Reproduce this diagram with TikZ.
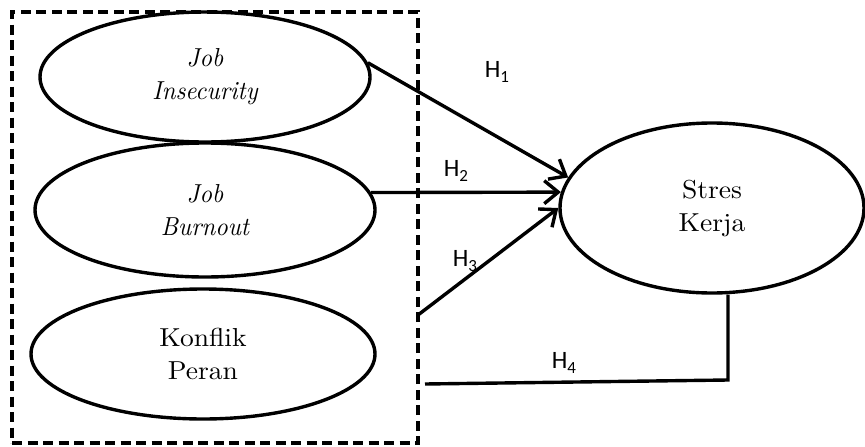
\documentclass[tikz,border=0pt]{standalone}
\usepackage{fontspec}
\newfontfamily\hfont{Carlito}
\newfontfamily\ovalfont{lmroman10-regular.otf}[FakeStretch=1.06]
\newfontfamily\ovalit{lmroman10-italic.otf}[FakeStretch=0.94]
\usetikzlibrary{shapes.geometric,arrows.meta}
\newcommand{\hlabel}[1]{H\raisebox{-4.5pt}{\fontsize{17}{17}\selectfont #1}}
\begin{document}
\begin{tikzpicture}[x=1pt,y=-1pt,
  oval/.style={draw,ellipse,line width=3.4pt,inner sep=0pt,align=center,
    font=\ovalfont\fontsize{26}{33}\selectfont},
  conn/.style={line width=3.4pt},
  arr/.style={conn,-{Straight Barb[length=14pt,width=23pt]}},
  hlab/.style={font=\hfont\fontsize{25}{25}\selectfont,inner sep=0pt},
  grpbox/.style={draw,line width=3.4pt,dash pattern=on 10pt off 5.5pt,inner sep=0pt}
]
\useasboundingbox (0,0) rectangle (865,447);
% group box
\node[grpbox,minimum width=406pt,minimum height=431pt] (grp) at (215,227.5) {};
% ellipses
\node[oval,minimum width=330pt,minimum height=130pt] (ji) at (205,77) {{\ovalit Job}\\{\ovalit Insecurity}};
\node[oval,minimum width=340pt,minimum height=134pt] (jb) at (205,210) {{\ovalit Job}\\{\ovalit Burnout}};
\node[oval,minimum width=344pt,minimum height=130pt] (kp) at (203,354) {Konflik\\Peran};
\node[oval,minimum width=304pt,minimum height=170pt] (sk) at (712,208) {Stres\\Kerja};
% free ends
\coordinate (k3) at (418,315);
\coordinate (k4) at (425,384);
\coordinate (h4c) at (728,380);
% connectors
\draw[arr] (ji.5) -- (sk.168);
\draw[arr] (jb.6) -- (sk.174);
\draw[arr] (k3) -- (sk.180);
\draw[conn] (k4) -- (h4c) -- ([xshift=16pt]sk.south);
% labels
\node[hlab] (h1) at (497,72) {\hlabel{1}};
\node[hlab] (h2) at (456,171) {\hlabel{2}};
\node[hlab] (h3) at (465,261) {\hlabel{3}};
\node[hlab] (h4) at (564,363) {\hlabel{4}};
\end{tikzpicture}
\end{document}
